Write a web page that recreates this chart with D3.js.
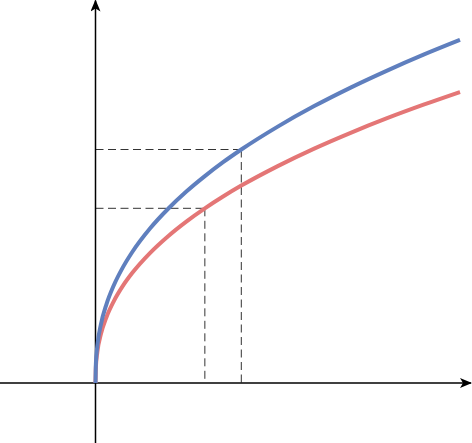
<!DOCTYPE html>
<html>
<head>
<meta charset="utf-8">
<script src="https://cdn.jsdelivr.net/npm/d3@7"></script>
<style>
  html, body { margin: 0; padding: 0; background: #fff; }
  svg { display: block; }
</style>
</head>
<body>
<svg id="chart" width="472" height="443"></svg>
<script>
// values (x in plot units, y in plot units)
const xs = [0, 0.01, 0.05, 0.15, 0.3, 0.5, 0.75, 1, 1.5, 2, 2.5, 3, 3.5, 4, 5, 6, 7, 8, 9, 10];
const blueYs = [0, 0.189, 0.371, 0.588, 0.787, 0.975, 1.156, 1.305, 1.547, 1.745, 1.917, 2.069, 2.208, 2.335, 2.564, 2.769, 2.954, 3.124, 3.283, 3.431];
const redYs = [0, 0.156, 0.308, 0.491, 0.658, 0.817, 0.971, 1.097, 1.302, 1.471, 1.617, 1.747, 1.865, 1.974, 2.169, 2.344, 2.502, 2.648, 2.783, 2.910];
// guide points marked with dashed lines
const guides = [
  { x: 4, y: 2.335 },
  { x: 3, y: 1.747 }
];

const svg = d3.select('#chart');
const x = d3.scaleLinear().domain([0, 10]).range([95.5, 460]);
const y = d3.scaleLinear().domain([0, 3.83]).range([383, 0]);

const defs = svg.append('defs');
defs.append('marker')
  .attr('id', 'arrow')
  .attr('viewBox', '0 0 12 10')
  .attr('refX', 11).attr('refY', 5)
  .attr('markerWidth', 12).attr('markerHeight', 10)
  .attr('markerUnits', 'userSpaceOnUse')
  .attr('orient', 'auto')
  .append('path')
  .attr('d', 'M0,0 L12,5 L0,10 L3,5 Z')
  .attr('fill', '#000');

// dashed guides
const g = svg.append('g');
guides.forEach(p => {
  g.append('line')
    .attr('x1', x(0)).attr('y1', y(p.y))
    .attr('x2', x(p.x)).attr('y2', y(p.y))
    .attr('stroke', '#333').attr('stroke-width', 1).attr('stroke-dasharray', '8 4.5');
  g.append('line')
    .attr('x1', x(p.x)).attr('y1', y(p.y))
    .attr('x2', x(p.x)).attr('y2', y(0))
    .attr('stroke', '#333').attr('stroke-width', 1).attr('stroke-dasharray', '8 4.5');
});

// axes
svg.append('line')
  .attr('x1', 0).attr('y1', y(0)).attr('x2', 471).attr('y2', y(0))
  .attr('stroke', '#000').attr('stroke-width', 1.5).attr('marker-end', 'url(#arrow)');
svg.append('line')
  .attr('x1', x(0)).attr('y1', 443).attr('x2', x(0)).attr('y2', 0.5)
  .attr('stroke', '#000').attr('stroke-width', 1.5).attr('marker-end', 'url(#arrow)');

const line = d3.line().x(d => x(d[0])).y(d => y(d[1])).curve(d3.curveMonotoneX);

svg.append('path')
  .datum(xs.map((v, i) => [v, redYs[i]]))
  .attr('d', line)
  .attr('fill', 'none').attr('stroke', '#e47676').attr('stroke-width', 4);

svg.append('path')
  .datum(xs.map((v, i) => [v, blueYs[i]]))
  .attr('d', line)
  .attr('fill', 'none').attr('stroke', '#5f7fbe').attr('stroke-width', 4);
</script>
</body>
</html>
